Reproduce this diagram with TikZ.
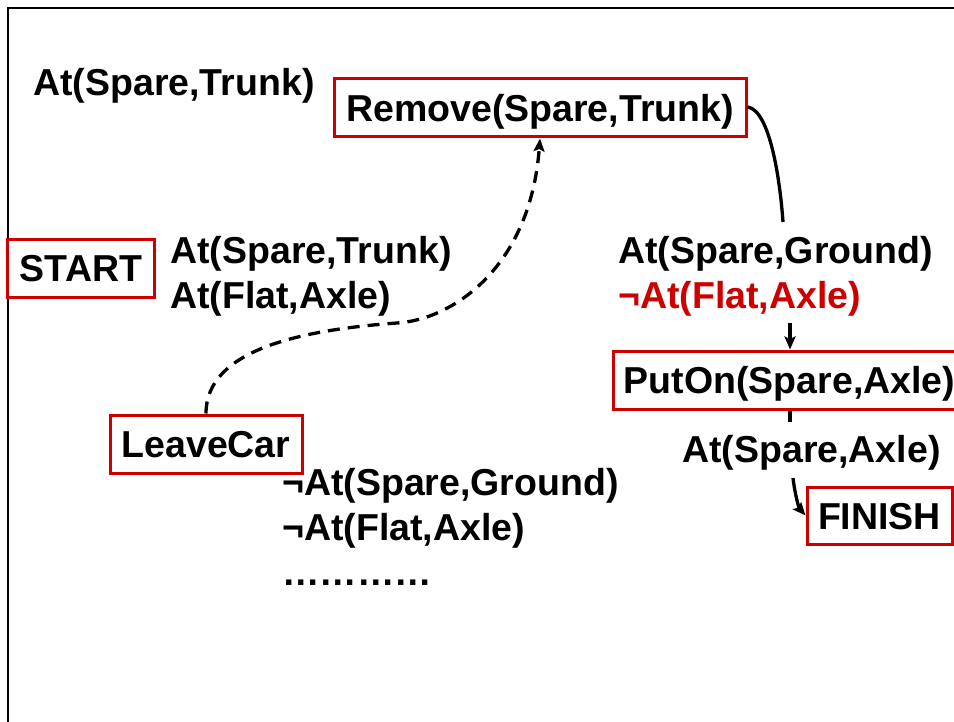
\documentclass[tikz,border=0pt]{standalone}
\usepackage{fontspec}
\setmainfont{Liberation Sans}
\usetikzlibrary{arrows.meta}
\definecolor{boxred}{RGB}{204,0,0}
\tikzset{
  lbl/.style={inner sep=0pt, anchor=base west, font=\fontsize{37.5bp}{45bp}\selectfont\bfseries},
  actbox/.style={draw=boxred, line width=3bp, inner sep=0pt, text height=27bp, text depth=0pt,
     minimum height=58bp, font=\fontsize{37.5bp}{45bp}\selectfont\bfseries},
  conn/.style={line width=3.3bp, black},
  tip/.style={-{Stealth[length=13bp,width=11bp,inset=2.5bp]}}
}
\begin{document}
\begin{tikzpicture}[x=1bp,y=-1bp]
\useasboundingbox (0,0) rectangle (954,722);
\clip (0,0) rectangle (954,722);
\fill[white] (0,0) rectangle (954,722);
% frame
\draw[line width=2.8bp] (8,740) -- (8,8) -- (970,8);

% action boxes
\node[actbox, minimum width=146bp] (start) at (81,268) {START};
\node[actbox, minimum width=412bp] (remove) at (540,108) {Remove(Spare,Trunk)};
\node[actbox, minimum width=353bp] (puton) at (789.5,380) {PutOn(Spare,Axle)};
\node[actbox, minimum width=145bp, minimum height=57bp] (finish) at (879.5,515.5) {FINISH};
\node[actbox, minimum width=192bp] (leave) at (206,444) {LeaveCar};

% literal labels
\node[lbl] (p1) at (33,96) {At(Spare,Trunk)};
\node[lbl] (s1) at (170,263) {At(Spare,Trunk)};
\node[lbl] (s2) at (170,308) {At(Flat,Axle)};
\node[lbl] (g1) at (618,263) {At(Spare,Ground)};
\node[lbl, text=boxred] (g2) at (618,308) {¬At(Flat,Axle)};
\node[lbl] (a1) at (682,462) {At(Spare,Axle)};
\node[lbl] (l1) at (282,495) {¬At(Spare,Ground)};
\node[lbl] (l2) at (282,540) {¬At(Flat,Axle)};
\node[lbl] (l3) at (282,585) {…………};

% connectors
\coordinate (cEnd) at (783,222);
\draw[conn] (remove.east |- 748,107) .. controls (770,110) and (780,180) .. (cEnd);

\draw[conn, dashed, dash pattern=on 12bp off 8bp, tip] (leave.north) .. controls (206,350) and (300,330) .. (397,323)
   .. controls (450,320) and (530,270) .. (remove.south);

\coordinate (gArr) at (790,323);
\draw[conn, tip] (gArr) -- (puton.north -| gArr);

\coordinate (pStub) at (790,422);
\draw[conn] (puton.south -| pStub) -- (pStub);

\coordinate (aStart) at (793,478);
\draw[conn, tip] (aStart) .. controls (795,495) and (799,508) .. (finish.west);
\end{tikzpicture}
\end{document}
